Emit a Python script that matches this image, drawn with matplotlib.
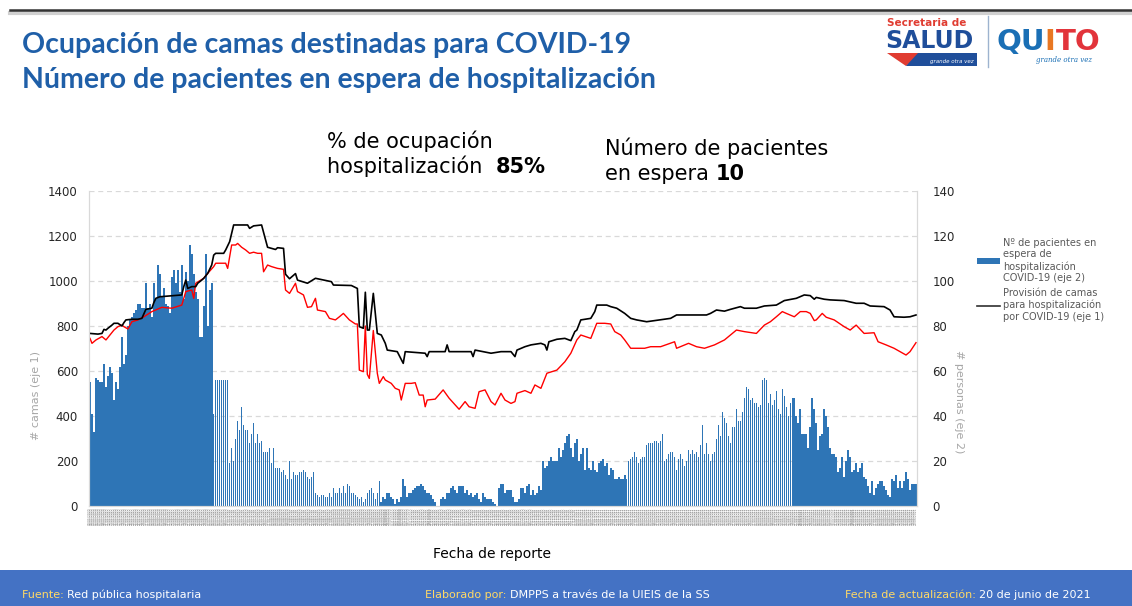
import numpy as np
import pandas as pd
import matplotlib
matplotlib.use('Agg')
import matplotlib.pyplot as plt
from matplotlib.lines import Line2D
from matplotlib.patches import Patch, Rectangle, Polygon

# ---- data ----
end_date = '2021-06-20'

# patients waiting for hospitalisation, one value per day (eje 2)
waiting = [
    55, 41, 33, 57, 56, 55, 55, 63, 53, 58, 62, 59, 47, 55, 52, 62, 75, 63, 67, 80,
    83, 84, 86, 87, 90, 90, 88, 88, 99, 88, 90, 84, 99, 92, 107, 103, 93, 97, 90, 89,
    86, 102, 105, 99, 105, 95, 107, 92, 104, 100, 116, 112, 103, 95, 92, 75, 75, 89, 112, 80,
    96, 99, 41, 56, 56, 56, 56, 56, 56, 56,
    19, 26, 20, 30, 38, 34, 44, 36, 34, 34, 28, 32, 37, 28, 32, 28, 29, 24, 24, 24,
    26, 19, 26, 17, 17, 17, 15, 16, 14, 12, 20, 12, 15, 14, 14, 15, 15, 16, 15, 13,
    12, 13, 15, 6, 5, 4, 5, 5, 4, 4, 6, 4, 8, 6, 6, 8, 6, 9, 6, 10,
    9, 6, 6, 5, 4,
    3, 4, 2, 3, 6, 7, 8, 6, 3, 6, 11, 2, 4, 3, 6, 6, 4, 3, 1, 3,
    2, 4, 12, 9, 4, 6, 6, 7, 8, 9, 9, 10, 9, 7, 6, 6, 5, 3, 2, 0,
    0, 3, 4, 3, 6, 6, 8, 9, 7, 6, 9, 9, 9, 6, 7, 5, 6, 4, 5, 6,
    3, 2, 6, 4, 3,
    3, 3, 2, 1, 0, 8, 10, 10, 6, 7, 7, 7, 4, 2, 2, 3, 8, 8, 6, 9,
    10, 5, 7, 5, 6, 9, 7, 20, 17, 18, 20, 22, 20, 20, 20, 26, 22, 25, 28, 31,
    32, 26, 22, 28, 30, 20, 23, 26, 16, 26, 17, 16, 20, 16, 15, 19, 20, 21, 18, 19,
    14, 17, 16, 12, 12, 13, 12, 12, 14, 12,
    20, 21, 22, 24, 22, 19, 21, 22, 22, 27, 28, 28, 28, 29, 29,
    28, 29, 32, 20, 21, 23, 24, 24, 22, 16, 21, 23, 21, 18, 20, 25, 23, 25, 23, 24,
    22, 27, 36, 23, 28, 23, 20, 23, 24, 30, 36, 31, 42, 39, 37, 31, 28, 35, 35, 43,
    38, 38, 42, 48, 53, 52, 47, 48, 46, 46, 44, 45, 56, 57, 56, 46, 50, 45, 47, 51,
    43, 41, 52, 49, 44, 40, 46, 48, 48, 40, 37, 43, 32, 32, 32, 26, 35, 48, 43, 37,
    25, 31, 32, 43, 40, 35, 26, 23, 23, 22, 15, 17, 22, 13, 20, 25, 22, 15, 16, 19,
    15, 17, 19, 13, 12, 9, 6, 11, 5, 8, 10, 11, 11, 9, 7, 5, 4, 12, 11, 14,
    8, 11, 8, 11, 15, 12, 7, 10, 10, 10,
]

# beds provided for COVID-19 (eje 1): day number since first report -> beds
prov_day = [0, 4, 6, 7, 8, 9, 11, 12, 14, 16, 17, 18, 21, 24, 26, 28, 31, 32, 33, 35,
            46, 47, 48, 49, 51, 53, 54, 56, 57, 59, 61, 62, 63, 67, 68, 70, 72, 79, 80, 82,
            86, 88, 89, 93, 94, 97, 98, 100, 103, 104, 109, 113, 121, 122, 131, 134, 135, 137, 138, 139,
            140, 142, 144, 146, 148, 149, 154, 157, 158, 168, 169, 170, 178, 179, 180, 191, 192, 193, 201, 206,
            211, 213, 214, 218, 221, 226, 228, 229, 230, 234, 238, 241, 243, 244, 246, 251, 253, 254, 259, 261,
            264, 268, 271, 274, 279, 283, 288, 291, 294, 301, 309, 311, 314, 318, 321, 326, 328, 334, 338, 344,
            348, 354, 358, 361, 363, 364, 368, 371, 378, 384, 388, 391, 398, 401, 403, 408, 411, 414]
prov_beds = [767, 764, 767, 785, 782, 790, 804, 812, 812, 800, 815, 827, 830, 830, 834, 874, 879, 904, 923, 930,
             938, 975, 1004, 967, 975, 975, 990, 1004, 1012, 1034, 1071, 1115, 1123, 1123, 1138, 1175, 1249, 1249, 1234, 1245,
             1249, 1182, 1150, 1140, 1148, 1145, 1030, 1010, 1033, 1004, 990, 1012, 997, 982, 980, 967, 797, 790, 950, 782,
             782, 945, 767, 760, 723, 693, 686, 634, 686, 679, 664, 686, 686, 716, 686, 686, 664, 693, 679, 686,
             686, 664, 693, 708, 716, 723, 716, 693, 730, 741, 745, 735, 775, 782, 827, 834, 864, 893, 893, 886,
             879, 856, 834, 827, 819, 824, 830, 834, 849, 849, 849, 856, 871, 866, 874, 886, 879, 879, 889, 893,
             913, 923, 938, 935, 919, 927, 919, 916, 913, 901, 901, 889, 886, 871, 841, 839, 841, 849]

# beds occupied (eje 1): day number -> beds
occ_day = [0, 1, 3, 6, 8, 10, 12, 14, 16, 17, 19, 21, 24, 27, 31, 36, 41, 46, 48, 51,
           52, 53, 57, 59, 62, 63, 68, 69, 71, 73, 74, 76, 78, 80, 82, 84, 86, 87, 89, 91,
           94, 97, 98, 100, 103, 104, 107, 109, 111, 113, 114, 118, 120, 123, 125, 127, 130, 133, 134, 135,
           137, 138, 139, 140, 142, 144, 145, 147, 148, 151, 153, 155, 156, 158, 161, 163, 165, 167, 168, 169,
           173, 177, 180, 185, 188, 190, 193, 195, 198, 201, 203, 206, 208, 211, 213, 214, 218, 221, 223, 226,
           229, 234, 238, 241, 244, 246, 251, 254, 258, 261, 263, 266, 268, 271, 278, 281, 286, 293, 294, 300,
           304, 308, 313, 318, 321, 324, 328, 334, 338, 341, 344, 347, 349, 353, 356, 359, 361, 363, 364, 367,
           369, 373, 378, 381, 384, 388, 393, 395, 399, 403, 406, 409, 411, 414]
occ_beds = [745, 723, 738, 753, 738, 760, 782, 797, 804, 797, 787, 819, 827, 841, 864, 883, 879, 893, 953, 960,
            923, 990, 1012, 1034, 1064, 1079, 1079, 1056, 1160, 1160, 1167, 1150, 1138, 1123, 1128, 1123, 1123, 1041, 1071, 1064,
            1056, 1052, 960, 945, 990, 953, 938, 883, 886, 923, 871, 864, 834, 827, 841, 856, 827, 809, 809, 604,
            597, 800, 585, 567, 780, 590, 545, 575, 560, 545, 523, 516, 471, 545, 545, 548, 493, 493, 441, 471,
            475, 516, 479, 430, 464, 441, 434, 508, 516, 464, 449, 501, 471, 456, 464, 501, 513, 501, 538, 523,
            590, 604, 641, 679, 738, 760, 745, 812, 812, 809, 775, 760, 738, 701, 701, 708, 708, 730, 701, 723,
            708, 701, 716, 738, 760, 782, 775, 767, 804, 819, 841, 864, 856, 841, 864, 864, 856, 824, 827, 856,
            839, 827, 797, 782, 804, 767, 770, 730, 716, 701, 686, 671, 686, 726]

occupancy_pct = 85
waiting_now = 10

# ---- styling ----
BLUE_TITLE = '#1F5FA8'
BAR_BLUE = '#2E75B6'
GRID = '#D9D9D9'
TXT = '#404040'

dates = pd.date_range(end=end_date, periods=len(waiting), freq='D')
date_labels = [d.strftime('%d/%m/%Y') for d in dates]
pos = np.arange(len(waiting))

W, H = 1132, 606
def fx(px):
    return px / W
def fy(py):
    return 1 - py / H

fig = plt.figure(figsize=(W / 100, H / 100), dpi=100)


def inline(x, y, parts, **kw):
    # write text pieces one after another on one baseline
    cur = fx(x)
    for text, style in parts:
        t = fig.text(cur, fy(y), text, va='baseline', **kw, **style)
        fig.canvas.draw()
        cur = t.get_window_extent().x1 / W


ax = fig.add_axes([fx(89), fy(506), (917 - 89) / W, (506 - 191) / H])
ax2 = ax.twinx()

# bars on the right axis
ax2.bar(pos, waiting, width=0.8, color=BAR_BLUE, linewidth=0)
ax2.set_ylim(0, 140)
ax2.set_yticks(np.arange(0, 141, 20))
ax2.set_axisbelow(True)
ax2.yaxis.grid(True, linestyle=(0, (4, 3)), color=GRID, linewidth=0.9)

# lines on the left axis, drawn above the bars
ax.set_zorder(ax2.get_zorder() + 1)
ax.patch.set_visible(False)
ax.plot(occ_day, occ_beds, color='#FF0000', linewidth=1.0)
ax.plot(prov_day, prov_beds, color='black', linewidth=1.2)
ax.set_ylim(0, 1400)
ax.set_yticks(np.arange(0, 1401, 200))
ax.set_xlim(-0.5, len(waiting) - 0.5)

ax.set_xticks(pos)
ax.set_xticklabels(date_labels, rotation=90, fontsize=2.2, color='#7F7F7F')
ax.tick_params(axis='x', length=0, pad=1)
ax2.tick_params(axis='x', length=0)
ax.tick_params(axis='y', length=0, pad=8, labelsize=8.5, labelcolor='#262626')
ax2.tick_params(axis='y', length=0, pad=11, labelsize=8.5, labelcolor='#262626')

for a in (ax, ax2):
    a.spines['top'].set_visible(False)
    for s in ('left', 'right', 'bottom'):
        a.spines[s].set_color(GRID)
        a.spines[s].set_linewidth(0.8)

ax.set_ylabel('# camas (eje 1)', fontsize=8, color='#A6A6A6')
ax.yaxis.set_label_coords(-0.058, 0.35)
ax2.set_ylabel('# personas (eje 2)', fontsize=8, color='#A6A6A6', rotation=270)
ax2.yaxis.set_label_coords(1.057, 0.33)
fig.text(fx(492), fy(558), 'Fecha de reporte', fontsize=10, color='black', ha='center', va='baseline')

# legend
handles = [Patch(facecolor=BAR_BLUE, edgecolor='none'), Line2D([0], [0], color='#303030', lw=1.2)]
labels = ['Nº de pacientes en\nespera de\nhospitalización\nCOVID-19 (eje 2)',
          'Provisión de camas\npara hospitalización\npor COVID-19 (eje 1)']
fig.legend(handles, labels, loc='upper left', bbox_to_anchor=(fx(968), fy(229)), frameon=False,
           fontsize=7, labelcolor='#595959', handlelength=2.4, handletextpad=0.3, labelspacing=0.5)

# titles
fig.text(fx(22), fy(53), 'Ocupación de camas destinadas para COVID-19', family='Lato',
         fontsize=20.5, fontweight='bold', color=BLUE_TITLE, va='baseline')
fig.text(fx(22), fy(88), 'Número de pacientes en espera de hospitalización', family='Lato',
         fontsize=20.5, fontweight='bold', color=BLUE_TITLE, va='baseline')

# headline figures
fig.text(fx(327), fy(148), '% de ocupación', fontsize=15, color='black', va='baseline')
inline(327, 173, [('hospitalización  ', {}), (f'{occupancy_pct}%', {'fontweight': 'bold'})],
       fontsize=15, color='black')
fig.text(fx(605), fy(155), 'Número de pacientes', fontsize=15, color='black', va='baseline')
inline(605, 180, [('en espera ', {}), (f'{waiting_now}', {'fontweight': 'bold'})],
       fontsize=15, color='black')

# top rule
fig.add_artist(Line2D([fx(10), 1], [fy(13), fy(13)], color='#D0D0D0', lw=3, transform=fig.transFigure))
fig.add_artist(Line2D([fx(10), 1], [fy(10), fy(10)], color='#333333', lw=1.8, transform=fig.transFigure))

# logo (text approximation)
fig.text(fx(887), fy(26), 'Secretaria de', fontsize=7.5, fontweight='bold', color='#E03C31', va='baseline')
fig.text(fx(885), fy(48), 'SALUD', fontsize=17, fontweight='bold', color='#1F4E9A', va='baseline')
fig.add_artist(Polygon([(fx(887), fy(53)), (fx(923), fy(53)), (fx(906), fy(66))], closed=True,
                       facecolor='#E03C31', edgecolor='none', transform=fig.transFigure))
fig.add_artist(Polygon([(fx(918), fy(53)), (fx(977), fy(53)), (fx(977), fy(66)), (fx(906), fy(66))], closed=True,
                       facecolor='#1F4E9A', edgecolor='none', transform=fig.transFigure))
fig.text(fx(930), fy(63), 'grande otra vez', fontsize=4, style='italic', color='white', va='baseline')
fig.add_artist(Line2D([fx(988), fx(988)], [fy(16), fy(67)], color='#9DB3CF', lw=1, transform=fig.transFigure))
inline(996, 50, [('QU', {'color': '#1A6FB5'}), ('I', {'color': '#E87722'}), ('TO', {'color': '#E2343B'})],
       fontsize=21, fontweight='bold')
fig.text(fx(1036), fy(62), 'grande otra vez', fontsize=5, style='italic', family='DejaVu Serif',
         color='#1A6FB5', va='baseline')

# footer band
fig.add_artist(Rectangle((0, 0), 1, fy(570), facecolor='#4472C4', edgecolor='none', transform=fig.transFigure))
FOOT = ['Liberation Sans Narrow', 'DejaVu Sans']
YEL = '#FFD966'
for x, key, val in [(22, 'Fuente: ', 'Red pública hospitalaria'),
                    (425, 'Elaborado por: ', 'DMPPS a través de la UIEIS de la SS'),
                    (845, 'Fecha de actualización: ', '20 de junio de 2021')]:
    inline(x, 598, [(key, {'color': YEL}), (val, {'color': 'white'})], fontsize=8, family=FOOT)

fig.savefig('out.png', dpi=100)
